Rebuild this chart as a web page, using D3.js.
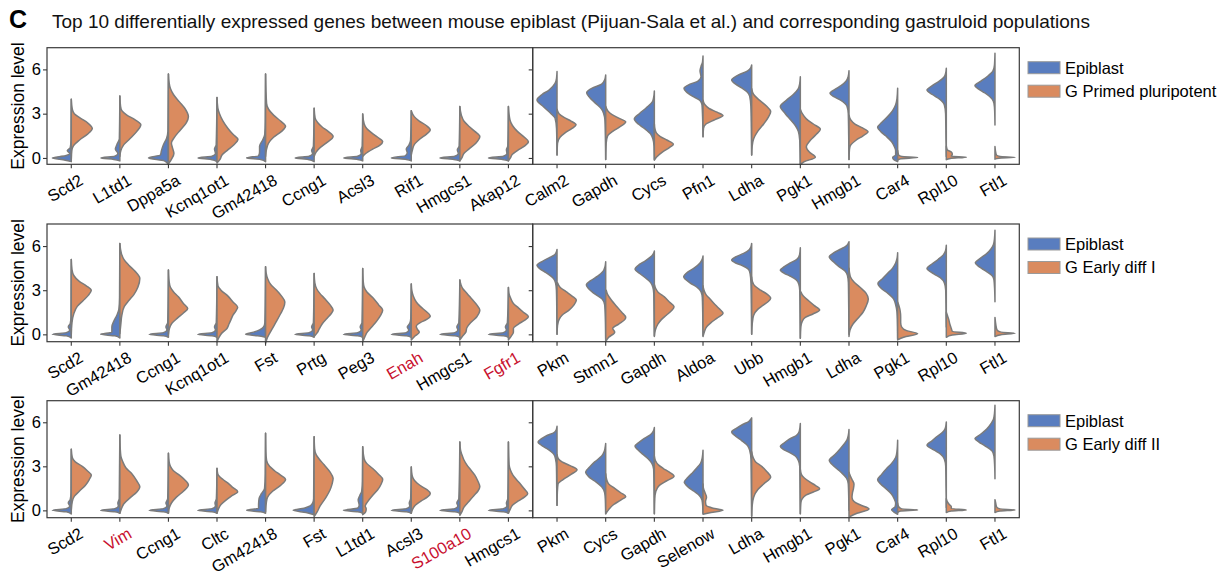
<!DOCTYPE html>
<html><head><meta charset="utf-8">
<script src="https://cdn.jsdelivr.net/npm/d3@7"></script>
<style>body{margin:0;background:#fff} text{font-family:"Liberation Sans",Arial,Helvetica,sans-serif}</style>
</head><body><svg id="chart" width="1226" height="575"></svg>
<script>
// ---------- DATA (density profiles: [expression, half-width density]) ----------
const refLabel = "Epiblast";
const groupLabels = ["G Primed pluripotent", "G Early diff I", "G Early diff II"];
const highlightGenes = ["Enah", "Fgfr1", "Vim", "S100a10"];
const yTicks = [0, 3, 6];

// Row 1, left panel (up in gastruloid)
const r1LeftGenes = ["Scd2","L1td1","Dppa5a","Kcnq1ot1","Gm42418","Ccng1","Acsl3","Rif1","Hmgcs1","Akap12"];
const r1LeftEpi = [
 [[-0.25,0],[-0.15,6],[0,19],[0.15,6],[0.3,1.5],[0.5,4],[0.7,1],[1.2,0.3],[3.97,0]],
 [[-0.2,0],[-0.1,6],[0,19],[0.12,5],[0.3,2],[0.6,4.5],[0.9,3],[1.3,0.5],[4.2,0]],
 [[-0.45,0],[-0.2,4],[0,20],[0.2,8],[0.5,7],[0.9,5],[1.3,2],[1.8,0.5],[5.69,0]],
 [[-0.25,0],[-0.1,6],[0,19],[0.12,5],[0.3,1.5],[0.6,2.5],[0.9,0.8],[4.09,0]],
 [[-0.25,0],[-0.1,5],[0,19],[0.15,7],[0.4,6],[0.8,6],[1.2,3],[1.6,0.8],[2.5,0.3],[5.69,0]],
 [[-0.25,0],[-0.1,6],[0,19],[0.12,5],[0.3,1.5],[0.5,2.5],[0.8,0.7],[3.36,0]],
 [[-0.2,0],[-0.1,5],[0,19],[0.12,5],[0.3,1.5],[0.5,2],[0.8,0.5],[2.98,0]],
 [[-0.2,0],[-0.1,5],[0,20],[0.15,6],[0.35,4],[0.6,5],[0.85,2.5],[1.2,0.7],[3.2,0]],
 [[-0.2,0],[-0.1,6],[0,20],[0.12,5],[0.3,1.5],[0.55,2.5],[0.8,0.7],[3.48,0]],
 [[-0.2,0],[-0.1,6],[0,20],[0.12,5],[0.3,1.5],[0.55,2],[0.8,0.6],[3.48,0]]
];
const r1LeftGas = [
 [[-0.1,0],[0.5,0.5],[0.8,2],[1.2,8],[1.6,16],[2.0,21],[2.4,16],[2.7,9],[3.0,3],[3.3,1],[3.97,0]],
 [[0.1,0],[0.5,1],[0.9,4],[1.3,10],[1.8,17],[2.25,21],[2.6,15],[2.9,7],[3.2,2],[3.5,0.7],[4.2,0]],
 [[-0.4,0],[-0.1,3],[0.3,5.5],[0.7,4],[1.0,3],[1.4,6],[1.9,12],[2.4,18],[2.8,20],[3.3,17],[3.8,11],[4.3,5],[4.7,2],[5.1,0.7],[5.69,0]],
 [[-0.35,0],[-0.1,3],[0.2,5],[0.5,10],[0.9,17],[1.25,21],[1.6,16],[2.0,11],[2.5,6],[3.0,2.5],[3.4,0.8],[4.09,0]],
 [[0.1,0],[0.6,1],[1.0,3],[1.4,8],[1.8,16],[2.15,20],[2.5,15],[2.9,8],[3.3,3],[3.7,1],[5.69,0]],
 [[0.1,0],[0.4,2],[0.7,6],[1.0,12],[1.45,19],[1.8,14],[2.1,8],[2.4,3.5],[2.7,1],[3.36,0]],
 [[0.1,0],[0.3,3],[0.6,10],[0.85,17],[1.1,20],[1.4,15],[1.7,9],[2.0,4],[2.3,1.5],[2.98,0]],
 [[0.2,0],[0.5,1],[0.9,3],[1.3,9],[1.6,15],[1.9,19],[2.2,15],[2.5,8],[2.8,3],[3.2,0]],
 [[-0.2,0],[0,2],[0.3,4],[0.6,9],[1.0,16],[1.45,20],[1.8,15],[2.15,9],[2.5,4],[2.9,1.5],[3.48,0]],
 [[-0.2,0],[0,2],[0.25,4],[0.5,9],[0.8,16],[1.1,20],[1.4,16],[1.8,9],[2.2,4],[2.6,1.5],[3.48,0]]
];

// Row 1, right panel (up in epiblast)
const r1RightGenes = ["Calm2","Gapdh","Cycs","Pfn1","Ldha","Pgk1","Hmgb1","Car4","Rpl10","Ftl1"];
const r1RightEpi = [
 [[0.2,0],[2.0,0.5],[2.7,2],[3.0,6],[3.5,14],[3.93,20],[4.3,15],[4.6,8],[5.05,2],[5.4,0.5],[5.85,0]],
 [[-0.1,0],[1.5,0.3],[2.6,0.8],[3.0,2],[3.3,4],[3.7,10],[4.1,16],[4.42,19],[4.75,13],[5.0,4],[5.3,1],[5.62,0]],
 [[-0.1,0],[0.8,0.3],[1.3,1.5],[1.6,3.5],[2.0,10],[2.3,16],[2.64,20],[3.0,15],[3.4,8],[3.8,2],[4.1,0.7],[4.54,0]],
 [[1.44,0],[2.5,0.3],[3.6,1],[3.9,3],[4.2,11],[4.5,17],[4.72,19],[5.0,13],[5.2,5],[5.5,2],[5.9,3],[6.2,2],[6.5,0.5],[6.9,0]],
 [[0.2,0],[2.0,0.3],[3.5,0.8],[4.2,2],[4.5,5],[4.75,10],[5.0,16],[5.28,20],[5.6,14],[5.9,4],[6.1,1],[6.3,0]],
 [[-0.45,0],[0.5,0.3],[1.2,0.6],[1.8,2],[2.2,5],[2.6,10],[3.0,15],[3.48,20],[3.9,14],[4.3,7],[4.7,2],[5.0,0.7],[5.5,0]],
 [[-0.1,0],[1.5,0.3],[3.0,0.7],[3.5,2],[3.9,8],[4.15,15],[4.38,19],[4.65,14],[4.9,8],[5.2,3],[5.5,0.8],[5.9,0]],
 [[-0.25,0],[-0.1,4],[0.05,5],[0.2,2],[0.5,2],[0.8,3.5],[1.1,6],[1.5,12],[1.8,17],[2.08,20],[2.4,16],[2.8,10],[3.2,5],[3.6,2],[4.0,0.7],[4.72,0]],
 [[0.1,0],[1.0,0.3],[3.0,0.7],[3.6,2],[4.0,7],[4.3,14],[4.6,19.3],[4.9,14],[5.2,7],[5.5,2],[5.8,0.5],[6.07,0]],
 [[2.23,0],[3.2,0.3],[3.7,1],[4.0,3],[4.4,10],[4.7,17],[4.9,20],[5.2,14],[5.5,8],[5.9,2],[6.3,0.5],[7.09,0]]
];
const r1RightGas = [
 [[0.2,0],[1.0,0.5],[1.4,3],[1.7,8],[2.0,15],[2.25,19],[2.5,14],[2.75,7],[3.0,2],[3.3,0]],
 [[-0.1,0],[1.0,0.5],[1.5,2],[1.8,7],[2.1,14],[2.45,20],[2.7,13],[2.95,6],[3.2,2],[3.5,0]],
 [[-0.15,0],[0.05,2],[0.4,8],[0.7,15],[0.93,19],[1.2,13],[1.45,6],[1.7,2],[2.0,0.5],[2.3,0]],
 [[1.44,0],[2.0,0.5],[2.3,3],[2.6,12],[2.87,20],[3.1,14],[3.35,6],[3.6,2],[3.9,0]],
 [[0.2,0],[0.8,0.5],[1.3,2],[1.8,6],[2.3,12],[2.8,17],[3.15,19],[3.5,15],[3.9,8],[4.3,2],[4.7,0]],
 [[-0.45,0],[-0.25,4],[0.05,15],[0.4,9],[0.75,6],[1.2,10],[1.6,16],[1.95,20],[2.3,13],[2.65,6],[3.0,2],[3.3,0]],
 [[-0.1,0],[0.6,0.5],[0.9,2],[1.2,7],[1.5,14],[1.78,19],[2.05,13],[2.3,6],[2.55,2],[2.9,0]],
 [[-0.15,0],[-0.05,3],[0.03,20],[0.1,4],[0.2,1],[0.5,0]],
 [[-0.12,0],[-0.03,4],[0.05,20],[0.12,5],[0.25,6],[0.4,5],[0.55,1],[0.8,0]],
 [[-0.08,0],[-0.02,4],[0.04,20],[0.1,5],[0.2,1.5],[0.4,0.7],[0.77,0]]
];

// Row 2, left panel
const r2LeftGenes = ["Scd2","Gm42418","Ccng1","Kcnq1ot1","Fst","Prtg","Peg3","Enah","Hmgcs1","Fgfr1"];
const r2LeftEpi = [
 [[-0.25,0],[-0.1,5],[0,19],[0.12,5],[0.3,1.5],[0.5,3],[0.75,1],[1.2,0.3],[5.09,0]],
 [[-0.25,0],[-0.1,5],[0,19.3],[0.15,8],[0.5,8],[0.9,6],[1.3,3],[1.7,1],[2.5,0.3],[6.18,0]],
 [[-0.2,0],[-0.1,5],[0,19.3],[0.12,5],[0.3,1.5],[0.5,2.5],[0.8,0.7],[4.37,0]],
 [[-0.2,0],[-0.1,5],[0,19.3],[0.12,5],[0.3,1.5],[0.5,2.5],[0.8,0.7],[3.91,0]],
 [[-0.2,0],[-0.1,8],[0,20],[0.15,12],[0.3,6],[0.5,2],[0.8,0.7],[4.6,0]],
 [[-0.2,0],[-0.1,5],[0,19.3],[0.12,5],[0.3,1.5],[0.5,2.5],[0.8,0.7],[4.14,0]],
 [[-0.2,0],[-0.1,5],[0,19.3],[0.12,5],[0.3,1.5],[0.5,2.5],[0.8,0.7],[4.48,0]],
 [[-0.2,0],[-0.1,5],[0,20],[0.12,5],[0.3,2.5],[0.5,4],[0.75,1.5],[1.1,0.5],[3.42,0]],
 [[-0.2,0],[-0.1,5],[0,20],[0.12,5],[0.3,2],[0.5,3],[0.8,1],[3.69,0]],
 [[-0.2,0],[-0.1,5],[0,20],[0.12,5],[0.3,2],[0.5,3],[0.8,1],[3.19,0]]
];
const r2LeftGas = [
 [[0,0],[0.8,0.7],[1.4,2.5],[1.9,6],[2.3,12],[2.65,17],[3.0,20],[3.3,15],[3.6,8],[4.0,2.5],[4.4,0.7],[5.09,0]],
 [[0.05,0],[0.7,1],[1.3,2],[1.9,4.5],[2.3,9],[2.7,14],[3.2,18],[3.8,20],[4.3,15],[4.7,9],[5.1,4],[5.5,1.5],[6.18,0]],
 [[0,0],[0.4,1],[0.75,3.5],[1.1,9],[1.45,15],[1.76,19.3],[2.1,15],[2.55,10],[2.9,5],[3.2,2],[3.6,0.7],[4.37,0]],
 [[-0.5,0],[-0.2,2],[0.1,5],[0.4,10],[0.7,12],[1.0,14],[1.3,16],[1.6,19],[1.85,20.7],[2.2,16],[2.6,11],[3.0,4],[3.3,1],[3.91,0]],
 [[-0.6,0],[-0.2,2],[0.3,6],[0.9,11],[1.4,15],[1.8,18],[2.2,19.3],[2.6,16],[3.0,11],[3.4,5],[3.8,2],[4.2,0.5],[4.6,0]],
 [[-0.15,0],[0.1,3],[0.35,5],[0.7,8],[1.1,13],[1.4,17],[1.65,19],[2.0,16],[2.4,11],[2.8,5.5],[3.1,2.5],[3.5,0.7],[4.14,0]],
 [[-0.5,0],[-0.2,2],[0.1,4],[0.5,9],[0.9,14],[1.3,18],[1.65,20],[2.0,16],[2.5,10],[2.9,4],[3.2,1.5],[3.6,0.5],[4.48,0]],
 [[-0.38,0],[-0.1,4],[0.15,8],[0.35,6],[0.55,5],[0.8,9],[1.0,15],[1.25,19],[1.55,15],[1.9,9],[2.2,5],[2.6,2],[3.0,0.5],[3.42,0]],
 [[-0.38,0],[-0.1,3],[0.15,6],[0.45,7],[0.8,11],[1.2,17],[1.65,20],[2.0,17],[2.4,12],[2.8,7],[3.1,3],[3.4,1],[3.69,0]],
 [[-0.38,0],[-0.1,3],[0.15,5],[0.4,5],[0.7,10],[0.95,16],[1.2,20],[1.5,15],[1.8,10],[2.1,5],[2.5,2],[2.8,0.5],[3.19,0]]
];

// Row 2, right panel
const r2RightGenes = ["Pkm","Stmn1","Gapdh","Aldoa","Ubb","Hmgb1","Ldha","Pgk1","Rpl10","Ftl1"];
const r2RightEpi = [
 [[0,0],[2.0,0.3],[3.0,0.6],[3.5,1.5],[3.8,3.5],[4.2,11],[4.45,17],[4.7,20],[4.95,15],[5.2,8],[5.4,2.5],[5.6,0.7],[5.77,0]],
 [[-0.3,0],[1.0,0.3],[2.0,1],[2.4,3.5],[2.8,12],[3.1,17],[3.35,19.3],[3.65,15],[3.95,8],[4.25,3],[4.6,0.7],[4.93,0]],
 [[-0.1,0],[1.5,0.3],[2.8,0.6],[3.2,1.5],[3.5,3.5],[3.9,10],[4.15,15],[4.43,19.3],[4.75,15],[5.0,9],[5.3,3],[5.5,0.8],[5.66,0]],
 [[-0.1,0],[1.5,0.3],[2.5,0.7],[2.9,2],[3.2,6],[3.5,13],[3.91,19.3],[4.25,15],[4.5,9],[4.85,3],[5.1,0.8],[5.32,0]],
 [[0,0],[2.0,0.3],[3.5,0.7],[4.1,1.5],[4.4,3],[4.7,10],[4.85,16],[5.05,20],[5.3,15],[5.5,8],[5.75,2.5],[5.95,0.7],[6.18,0]],
 [[-0.27,0],[1.5,0.3],[3.0,0.6],[3.4,1.5],[3.7,4],[3.95,10],[4.15,16],[4.37,20],[4.6,16],[4.85,10],[5.1,3.5],[5.4,0.8],[5.88,0]],
 [[0,0],[2.0,0.3],[3.5,0.6],[4.0,1.5],[4.3,4],[4.6,10],[4.9,15],[5.27,19.7],[5.55,15],[5.8,8],[6.0,3],[6.15,1],[6.29,0]],
 [[-0.3,0],[1.0,0.3],[1.6,0.8],[2.0,2],[2.4,4],[2.8,10],[3.1,16],[3.46,19.7],[3.8,15],[4.15,10],[4.5,5],[4.85,2],[5.2,0.5],[5.54,0]],
 [[0.5,0],[1.5,0.3],[3.0,0.6],[3.5,2],[3.85,6],[4.1,12],[4.48,19.3],[4.8,14],[5.1,8],[5.4,3],[5.7,0.7],[6.06,0]],
 [[2.22,0],[3.0,0.3],[3.7,1],[4.0,3],[4.3,9],[4.6,16],[4.86,19.7],[5.15,15],[5.5,8],[5.8,4],[6.1,1.5],[6.5,0.5],[7.08,0]]
];
const r2RightGas = [
 [[0,0],[0.6,0.5],[1.0,2],[1.3,5],[1.65,12],[2.0,17],[2.33,19.3],[2.6,15],[2.9,9],[3.2,3],[3.5,0.5]],
 [[-0.5,0],[-0.2,3],[0.15,9],[0.4,7],[0.7,13],[1.0,19],[1.15,20],[1.5,16],[1.9,11],[2.3,6],[2.7,2],[3.0,0.5]],
 [[-0.15,0],[0.3,1],[0.7,3.5],[1.0,7],[1.3,12],[1.6,17],[1.88,19.7],[2.2,15],[2.55,10],[2.85,4],[3.1,1.5],[3.4,0]],
 [[-0.15,0],[0.2,1.5],[0.5,3.5],[0.8,8],[1.1,14],[1.43,20],[1.75,16],[2.1,11],[2.4,7],[2.7,3],[3.0,1],[3.3,0]],
 [[0,0],[0.8,0.7],[1.3,2],[1.7,6],[2.0,12],[2.2,16],[2.45,19],[2.75,15],[3.0,9],[3.3,3],[3.6,0.7],[3.9,0]],
 [[-0.27,0],[0.5,0.5],[0.9,2],[1.15,5],[1.4,13],[1.65,19.3],[1.95,14],[2.3,8],[2.6,3],[2.9,0.5]],
 [[-0.15,0],[0.3,1],[0.7,4],[1.1,9],[1.5,14],[1.9,17],[2.4,19.3],[2.8,17],[3.2,11],[3.55,5],[3.9,1.5],[4.2,0.5],[4.5,0]],
 [[-0.38,0],[-0.2,6],[0.05,20],[0.25,9],[0.5,4],[0.8,3],[1.2,3],[1.6,2.5],[1.9,1.5],[2.2,0]],
 [[-0.2,0],[-0.05,6],[0.07,20],[0.2,6],[0.4,5],[0.7,3.5],[1.0,2.5],[1.3,1],[1.5,0]],
 [[-0.15,0],[-0.02,6],[0.07,20],[0.15,6],[0.3,2],[0.6,1],[1.15,0]]
];

// Row 3, left panel
const r3LeftGenes = ["Scd2","Vim","Ccng1","Cltc","Gm42418","Fst","L1td1","Acsl3","S100a10","Hmgcs1"];
const r3LeftEpi = [
 [[-0.25,0],[-0.1,5],[0,19],[0.12,5],[0.3,1.5],[0.5,3],[0.75,1],[1.2,0.3],[4.16,0]],
 [[-0.2,0],[-0.1,5],[0,19.3],[0.12,5],[0.3,1.5],[0.5,2],[0.8,0.6],[5.14,0]],
 [[-0.2,0],[-0.1,5],[0,19.3],[0.12,5],[0.3,1.5],[0.5,2.5],[0.8,0.7],[3.89,0]],
 [[-0.2,0],[-0.1,5],[0,19.3],[0.12,5],[0.3,1.5],[0.5,2],[0.8,0.6],[2.86,0]],
 [[-0.2,0],[-0.1,5],[0,19],[0.15,7],[0.4,7],[0.8,6.5],[1.15,4],[1.5,1],[2.5,0.3],[5.25,0]],
 [[-0.3,0],[-0.15,8],[0,21],[0.15,10],[0.3,4],[0.5,1.5],[0.8,0.5],[5.02,0]],
 [[-0.2,0],[-0.1,5],[0,19.3],[0.15,5],[0.35,3.5],[0.7,4.5],[1.0,3],[1.3,1],[2.0,0.3],[4.34,0]],
 [[-0.2,0],[-0.1,5],[0,20],[0.12,5],[0.3,1.5],[0.5,2],[0.8,0.6],[2.95,0]],
 [[-0.2,0],[-0.1,5],[0,20],[0.12,5],[0.3,2],[0.5,3],[0.8,1],[4.66,0]],
 [[-0.2,0],[-0.1,5],[0,20],[0.12,5],[0.3,1.5],[0.5,2],[0.8,0.6],[4.66,0]]
];
const r3LeftGas = [
 [[0,0],[0.6,1],[0.95,3],[1.3,8],[1.7,14],[2.1,18],[2.4,20],[2.7,16],[3.0,11],[3.3,4],[3.6,1],[4.16,0]],
 [[-0.2,0],[0.1,1.5],[0.45,4],[0.9,11],[1.25,17],[1.6,20],[2.0,17],[2.5,12],[2.9,6],[3.3,3],[3.7,1],[4.2,0.4],[5.14,0]],
 [[-0.2,0],[0.2,1],[0.5,3],[0.9,8],[1.3,15],[1.73,20],[2.1,16],[2.4,11],[2.7,5],[3.0,2],[3.3,0.7],[3.89,0]],
 [[-0.2,0],[0.1,1.5],[0.4,4],[0.7,9],[1.0,15],[1.27,20.7],[1.55,16],[1.85,11],[2.1,6],[2.3,2.5],[2.5,0.7],[2.86,0]],
 [[-0.1,0],[0.5,0.7],[0.9,2],[1.3,7],[1.7,15],[2.1,20],[2.4,15],[2.7,9],[3.0,4],[3.4,1],[4.0,0.3],[5.25,0]],
 [[-0.43,0],[-0.1,3],[0.3,6],[0.9,12],[1.4,16],[1.8,18],[2.18,19],[2.6,16],[3.1,10],[3.5,5],[3.8,2],[4.2,0.5],[5.02,0]],
 [[-0.3,0],[-0.1,3],[0.1,3.5],[0.3,2.5],[0.6,5],[0.95,9],[1.4,15],[1.8,18.5],[2.11,20],[2.45,16],[2.85,10],[3.2,4],[3.5,1.5],[4.34,0]],
 [[-0.2,0],[0.1,1.5],[0.35,4],[0.65,10],[0.9,16],[1.14,19],[1.4,16],[1.6,11],[1.85,6],[2.1,2.5],[2.4,0.8],[2.95,0]],
 [[-0.34,0],[-0.1,2],[0.2,4],[0.6,9],[1.0,14],[1.3,18],[1.6,20],[2.0,18],[2.4,15],[2.75,11],[3.1,7],[3.45,4],[3.8,2],[4.1,0.7],[4.66,0]],
 [[-0.2,0],[0.1,2],[0.35,4],[0.65,10],[0.9,16],[1.14,19.3],[1.45,16],[1.8,12],[2.1,8],[2.4,4.5],[2.75,2],[3.1,0.7],[4.66,0]]
];

// Row 3, right panel
const r3RightGenes = ["Pkm","Cycs","Gapdh","Selenow","Ldha","Hmgb1","Pgk1","Car4","Rpl10","Ftl1"];
const r3RightEpi = [
 [[0.34,0],[1.5,0.3],[3.0,0.6],[3.5,1.5],[3.8,3],[4.2,10],[4.45,16],[4.66,19],[4.9,15],[5.1,10],[5.3,3],[5.5,0.7],[5.73,0]],
 [[-0.23,0],[0.7,0.3],[1.2,1],[1.6,4],[2.0,11],[2.3,17],[2.61,20],[2.95,16],[3.3,11],[3.7,4],[4.0,1.5],[4.3,0.5],[4.55,0]],
 [[-0.23,0],[1.5,0.3],[2.8,0.7],[3.2,2.5],[3.5,6],[3.85,12],[4.1,16],[4.36,19.3],[4.65,15],[4.9,10],[5.15,4],[5.4,1],[5.64,0]],
 [[-0.2,0],[0.3,0.3],[0.7,1],[1.0,3.5],[1.3,9],[1.6,15],[1.93,18.7],[2.25,15],[2.6,10],[2.9,6],[3.2,2.5],[3.6,0.7],[4.09,0]],
 [[-0.4,0],[1.5,0.3],[3.5,0.7],[4.1,2],[4.4,4],[4.75,10],[5.05,16],[5.34,20],[5.6,15],[5.85,9],[6.05,3],[6.2,1],[6.3,0]],
 [[-0.23,0],[1.5,0.3],[3.0,0.6],[3.4,2],[3.7,5],[3.95,11],[4.15,17],[4.36,20],[4.6,16],[4.85,11],[5.1,4],[5.4,1],[5.91,0]],
 [[0,0],[1.0,0.3],[1.8,0.7],[2.2,2.5],[2.6,8],[3.0,15],[3.41,19.7],[3.8,14],[4.1,10],[4.5,5],[4.8,2],[5.1,0.7],[5.5,0]],
 [[-0.27,0],[-0.1,4],[0.05,6],[0.25,2.5],[0.5,2],[0.8,3.5],[1.1,6],[1.5,12],[1.8,17],[2.09,20],[2.45,16],[2.85,11],[3.2,6],[3.6,2],[4.0,0.7],[4.77,0]],
 [[0.2,0],[1.5,0.3],[3.0,0.6],[3.5,2],[3.85,6],[4.1,12],[4.43,19.3],[4.75,14],[5.0,10],[5.3,4],[5.6,1],[6.02,0]],
 [[2.16,0],[3.0,0.3],[3.7,1],[4.05,3],[4.4,10],[4.65,16],[4.89,20],[5.15,15],[5.55,8],[5.9,4],[6.2,1.5],[6.6,0.5],[7.16,0]]
];
const r3RightGas = [
 [[0.34,0],[1.2,0.3],[1.8,1],[2.1,6],[2.45,14],[2.77,20],[3.05,13],[3.3,5],[3.5,1.5],[3.8,0]],
 [[-0.23,0],[0.05,3],[0.4,8],[0.7,15],[0.95,20],[1.2,15],[1.5,9],[1.8,3],[2.1,1],[2.5,0]],
 [[-0.23,0],[0.8,0.4],[1.3,1.5],[1.7,5],[2.0,12],[2.32,19.7],[2.6,15],[2.85,9],[3.1,4],[3.4,1],[3.7,0]],
 [[-0.27,0],[-0.15,8],[0,20],[0.15,10],[0.35,3],[0.6,2.5],[0.9,3.5],[1.2,2],[1.5,0.5],[1.8,0]],
 [[-0.4,0],[0.3,0.5],[0.9,2],[1.4,6],[1.8,12],[2.27,19],[2.65,15],[3.0,10],[3.3,4],[3.6,1.5],[4.0,0]],
 [[-0.23,0],[0.5,0.5],[0.8,2],[1.05,6],[1.25,13],[1.48,19.3],[1.7,15],[1.95,9],[2.2,4],[2.45,1],[2.8,0]],
 [[-0.45,0],[-0.2,8],[0.1,20],[0.35,12],[0.6,5],[0.9,3],[1.2,3.5],[1.5,4.5],[1.8,5],[2.1,3],[2.4,1],[2.6,0]],
 [[-0.15,0],[-0.05,3],[0.03,20],[0.1,4],[0.25,1],[0.5,0]],
 [[-0.15,0],[-0.05,5],[0.03,20],[0.12,5],[0.25,5],[0.4,3],[0.6,1],[0.8,0]],
 [[-0.15,0],[-0.05,5],[0.03,20],[0.1,5],[0.25,1.5],[0.5,0.7],[0.73,0]]
];

// ---------- LAYOUT ----------
const W = 1226, H = 575;
const blue = "#597dbf", orange = "#da8b5f", outline = "#7b7b7b", axisColor = "#3a3a3a";
const FONT = '"Liberation Sans", Arial, Helvetica, sans-serif';
const panelX = [[47, 532.7], [532.7, 1019.3]];
const rows = [
  {top: 47.7, bottom: 164.3, yDomain: [-0.43, 7.47], group: groupLabels[0],
   left: {genes: r1LeftGenes, epi: r1LeftEpi, gas: r1LeftGas}, right: {genes: r1RightGenes, epi: r1RightEpi, gas: r1RightGas}},
  {top: 224, bottom: 341.7, yDomain: [-0.5, 7.5], group: groupLabels[1],
   left: {genes: r2LeftGenes, epi: r2LeftEpi, gas: r2LeftGas}, right: {genes: r2RightGenes, epi: r2RightEpi, gas: r2RightGas}},
  {top: 400.7, bottom: 517.7, yDomain: [-0.5, 7.47], group: groupLabels[2],
   left: {genes: r3LeftGenes, epi: r3LeftEpi, gas: r3LeftGas}, right: {genes: r3RightGenes, epi: r3RightEpi, gas: r3RightGas}}
];

const svg = d3.select("#chart");
svg.append("rect").attr("width", W).attr("height", H).attr("fill", "#fff");

// Title
svg.append("text").attr("x", 9).attr("y", 28).attr("font-size", 25).attr("font-weight", "bold").attr("fill", "#000").text("C");
svg.append("text").attr("x", 52).attr("y", 28).attr("font-size", 19).attr("fill", "#111")
  .text("Top 10 differentially expressed genes between mouse epiblast (Pijuan-Sala et al.) and corresponding gastruloid populations");

rows.forEach(row => {
  const y = d3.scaleLinear().domain(row.yDomain).range([row.bottom, row.top]);
  [row.left, row.right].forEach((p, i) => {
    const [px0, px1] = panelX[i];
    const x = d3.scaleBand().domain(p.genes).range([px0, px1]);
    const half = x.bandwidth() / 2;
    const w = d3.scaleLinear().domain([0, 24.3]).range([0, half]);
    const g = svg.append("g");
    p.genes.forEach((gene, k) => {
      const cx = x(gene) + half;
      const aL = d3.area().curve(d3.curveMonotoneY).y(d => y(d[0])).x0(cx).x1(d => cx - w(d[1]));
      const aR = d3.area().curve(d3.curveMonotoneY).y(d => y(d[0])).x0(cx).x1(d => cx + w(d[1]));
      g.append("path").attr("d", aL(p.epi[k])).attr("fill", blue)
        .attr("stroke", outline).attr("stroke-width", 1.5).attr("stroke-linejoin", "round");
      g.append("path").attr("d", aR(p.gas[k])).attr("fill", orange)
        .attr("stroke", outline).attr("stroke-width", 1.5).attr("stroke-linejoin", "round");
    });
    // frame
    svg.append("rect").attr("x", px0).attr("y", row.top).attr("width", px1 - px0).attr("height", row.bottom - row.top)
      .attr("fill", "none").attr("stroke", axisColor).attr("stroke-width", 1.2);
    // x axis
    const xa = svg.append("g").attr("transform", `translate(0,${row.bottom})`)
      .call(d3.axisBottom(x).tickSize(4).tickSizeOuter(0));
    xa.select(".domain").remove();
    xa.selectAll(".tick line").attr("stroke", axisColor).attr("stroke-width", 1.1);
    xa.selectAll(".tick text")
      .attr("x", 0).attr("y", 0).attr("dy", "0.72em")
      .attr("transform", "translate(7,9) rotate(-30)")
      .attr("text-anchor", "end").attr("font-size", 16.5)
      .attr("font-family", FONT)
      .attr("fill", d => highlightGenes.includes(d) ? "#c8102e" : "#000");
    // y axis
    const ya = svg.append("g").attr("transform", `translate(${px0},0)`)
      .call(d3.axisLeft(y).tickValues(yTicks).tickSize(4).tickSizeOuter(0).tickFormat(i === 0 ? d3.format("d") : () => ""));
    ya.select(".domain").remove();
    ya.selectAll(".tick line").attr("stroke", axisColor).attr("stroke-width", 1.1);
    ya.selectAll(".tick text").attr("font-size", 16.5).attr("fill", "#000").attr("x", -6)
      .attr("font-family", FONT);
  });
  // y label
  const midY = (row.top + row.bottom) / 2;
  svg.append("text").attr("transform", `translate(18,${midY}) rotate(-90)`).attr("text-anchor", "middle")
    .attr("dy", "0.36em").attr("font-size", 17.5).attr("fill", "#000").text("Expression level");
  // legend
  const lx = 1028, ly = row.top + 14;
  [[refLabel, blue], [row.group, orange]].forEach(([lab, col], j) => {
    svg.append("rect").attr("x", lx).attr("y", ly + j * 23.5).attr("width", 32).attr("height", 12)
      .attr("fill", col).attr("stroke", "#9a9a9a").attr("stroke-width", 1);
    svg.append("text").attr("x", lx + 37).attr("y", ly + j * 23.5 + 6).attr("dy", "0.36em")
      .attr("font-size", 16.5).attr("fill", "#000").text(lab);
  });
});
</script></body></html>
